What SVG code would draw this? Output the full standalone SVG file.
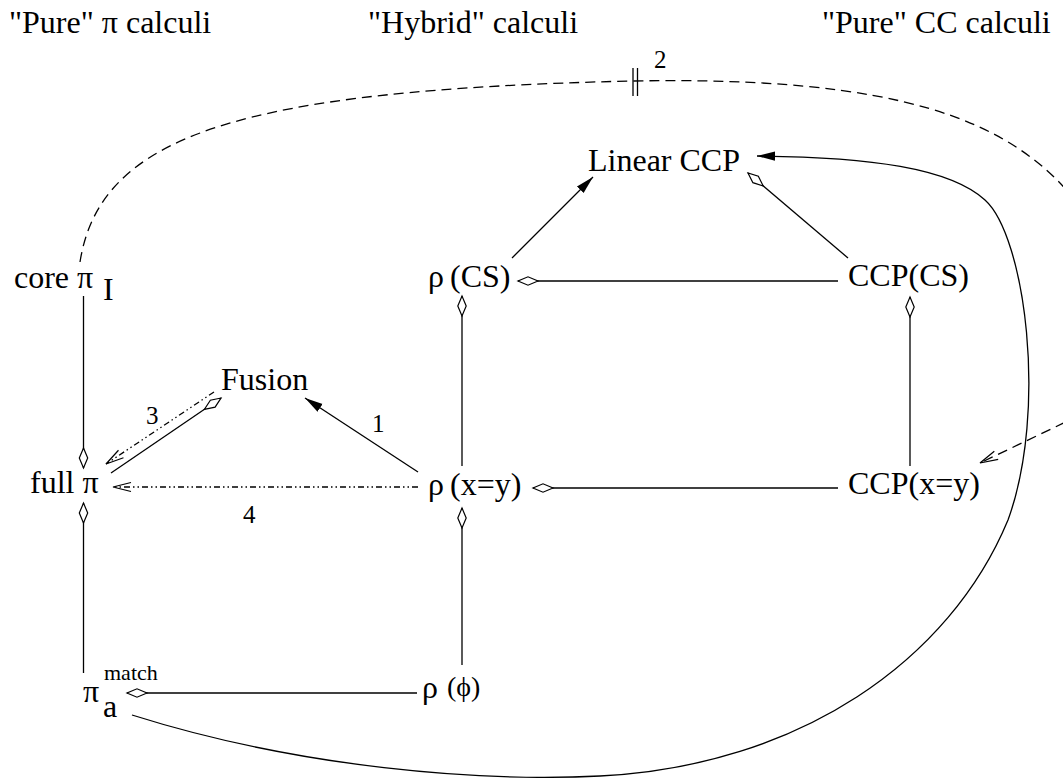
<svg xmlns="http://www.w3.org/2000/svg" width="1063" height="778" viewBox="0 0 1063 778" font-family="'Liberation Serif', 'DejaVu Serif', serif">
  <style>
    text { font-family: 'Liberation Serif', 'DejaVu Serif', serif; font-size: 32px; fill: #000; }
    .lbl { font-size: 25px; }
    .sup { font-size: 22px; }
    .small { font-size: 28px; }
    .edge { fill: none; stroke: #000; stroke-width: 1.3; }
    .dash { stroke-dasharray: 10 6; }
    .dd { stroke-dasharray: 6 3 1.5 3 1.5 3; }
  </style>
  <defs>
    <marker id="dia" viewBox="0 0 24 12" refX="22" refY="6" markerWidth="24" markerHeight="12" markerUnits="userSpaceOnUse" orient="auto">
      <path d="M2,6 L12,1.8 L22,6 L12,10.2 Z" fill="#fff" stroke="#000" stroke-width="1.2"/>
    </marker>
    <marker id="arr" viewBox="0 0 20 12" refX="18" refY="6" markerWidth="20" markerHeight="12" markerUnits="userSpaceOnUse" orient="auto">
      <path d="M0,1.3 L18,6 L0,10.7 Z" fill="#000"/>
    </marker>
    <marker id="open" viewBox="0 0 22 12" refX="20" refY="6" markerWidth="22" markerHeight="12" markerUnits="userSpaceOnUse" orient="auto">
      <path d="M2,1.5 L20,6 L2,10.5" fill="none" stroke="#000" stroke-width="1.2"/>
    </marker>
  </defs>

  <!-- column headings -->
  <g id="headings">
    <text x="9" y="33">"Pure" π calculi</text>
    <text x="368" y="33">"Hybrid" calculi</text>
    <text x="822" y="33">"Pure" CC calculi</text>
  </g>

  <!-- connectors -->
  <g id="connectors">
    <!-- left column -->
    <line class="edge" x1="83.5" y1="296" x2="83.5" y2="468" marker-end="url(#dia)"/>
    <line class="edge" x1="83.5" y1="673" x2="83.5" y2="503" marker-end="url(#dia)"/>
    <line class="edge" x1="417" y1="693" x2="127" y2="693" marker-end="url(#dia)"/>
    <!-- middle column -->
    <line class="edge" x1="462" y1="665" x2="462" y2="508" marker-end="url(#dia)"/>
    <line class="edge" x1="462" y1="466" x2="462" y2="296" marker-end="url(#dia)"/>
    <!-- right to middle -->
    <line class="edge" x1="838" y1="281" x2="518" y2="281" marker-end="url(#dia)"/>
    <line class="edge" x1="838" y1="488" x2="533" y2="488" marker-end="url(#dia)"/>
    <line class="edge" x1="910" y1="466" x2="910" y2="297" marker-end="url(#dia)"/>
    <!-- to Linear CCP -->
    <line class="edge" x1="848" y1="258" x2="748" y2="173" marker-end="url(#dia)"/>
    <line class="edge" x1="512" y1="258" x2="593" y2="177" marker-end="url(#arr)"/>
    <!-- Fusion links -->
    <line class="edge" x1="418" y1="472" x2="305" y2="398" marker-end="url(#arr)"/>
    <line class="edge" x1="111" y1="473" x2="221" y2="398" marker-end="url(#dia)"/>
    <line class="edge dd" x1="214" y1="392" x2="106" y2="464" marker-end="url(#open)"/>
    <line class="edge dd" x1="418" y1="487" x2="113" y2="487" marker-end="url(#open)"/>
    <!-- long curve into Linear CCP -->
    <path class="edge" d="M132,715 C300,768 480,782 600,776 C800,766 950,660 1008,520 C1048,410 1025,236 985,200 C950,168 870,157 757,156" marker-end="url(#arr)"/>
    <!-- dashed arc from core pi to CCP(x=y) -->
    <path class="edge dash" d="M80,262 C100,135 240,90 632,81 C900,76 1010,120 1075,200 C1130,270 1120,395 1070,420 L980,463" marker-end="url(#open)"/>
    <line class="edge" x1="633" y1="68" x2="633" y2="96"/>
    <line class="edge" x1="637.5" y1="68" x2="637.5" y2="96"/>
  </g>

  <!-- edge labels -->
  <g id="labels">
    <text class="lbl" x="654" y="68">2</text>
    <text class="lbl" x="372" y="432">1</text>
    <text class="lbl" x="146" y="424">3</text>
    <text class="lbl" x="243" y="523">4</text>
  </g>

  <!-- nodes -->
  <g id="n-linear-ccp"><text x="588" y="171">Linear CCP</text></g>
  <g id="n-core-pi"><text x="14" y="288">core π<tspan x="103" y="300">I</tspan></text></g>
  <g id="n-rho-cs"><text x="428" y="287">ρ<tspan x="450">(CS)</tspan></text></g>
  <g id="n-ccp-cs"><text x="848" y="286">CCP(CS)</text></g>
  <g id="n-fusion"><text x="221" y="390">Fusion</text></g>
  <g id="n-full-pi"><text x="30" y="493">full π</text></g>
  <g id="n-rho-xy"><text x="428" y="495">ρ<tspan x="450">(x=y)</tspan></text></g>
  <g id="n-ccp-xy"><text x="848" y="494">CCP(x=y)</text></g>
  <g id="n-pi-a-match">
    <text x="83" y="702">π<tspan x="103" y="717">a</tspan></text>
    <text class="sup" x="104" y="680">match</text>
  </g>
  <g id="n-rho-phi"><text x="422" y="698">ρ<tspan class="small" x="447" y="696">(ϕ)</tspan></text></g>
</svg>
